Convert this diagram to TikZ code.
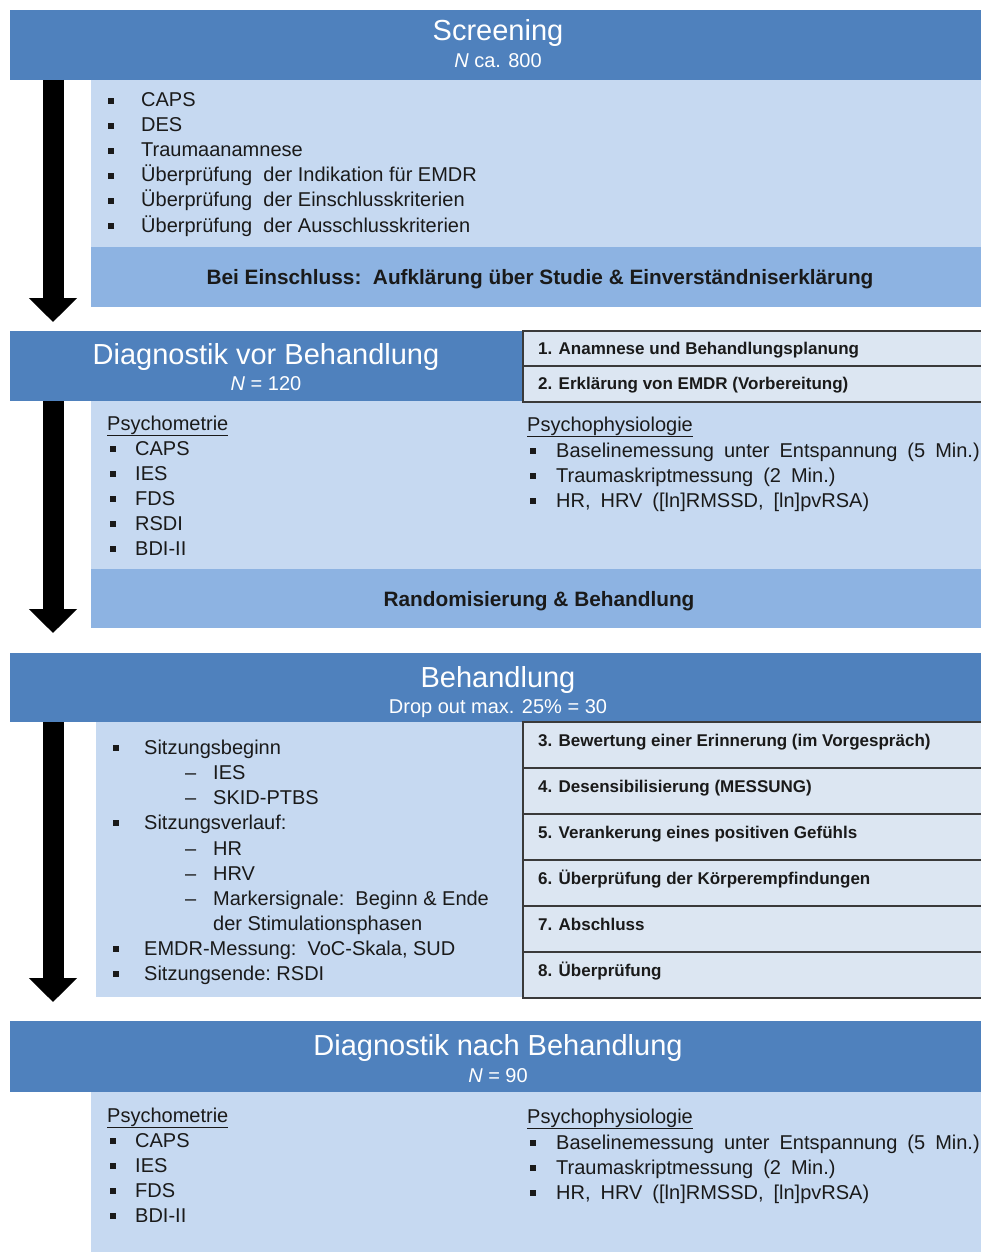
\documentclass[tikz,border=0pt]{standalone}
\usepackage{fontspec}
\setmainfont{Liberation Sans}
\usetikzlibrary{arrows.meta}

\definecolor{hdr}{HTML}{4F81BD}
\definecolor{pale}{HTML}{C6D9F1}
\definecolor{band}{HTML}{8DB3E2}
\definecolor{stepfill}{HTML}{DCE6F2}
\definecolor{stepline}{HTML}{3A3A3A}
\definecolor{ink}{HTML}{1A1A1A}

% bullet item: name, bullet x, text x, baseline y, text
\newcommand\bitem[5]{%
  \node[bul] (#1b) at (#2,#4-6) {};
  \node[txt] (#1) at (#3,#4) {#5};}
% dash item: name, dash x, text x, baseline y, text
\newcommand\ditem[5]{%
  \node[txt] (#1d) at (#2,#4) {--};
  \node[txt] (#1) at (#3,#4) {#5};}
% wider word gaps
\newcommand\wsp{\spaceskip=10pt plus 1pt\relax}

\begin{document}
\begin{tikzpicture}[x=1pt,y=-1pt,
  box/.style={anchor=north west, inner sep=0pt, outer sep=0pt, draw=none},
  hbox/.style={box, fill=hdr},
  pbox/.style={box, fill=pale},
  bbox/.style={box, fill=band},
  stepbox/.style={box, fill=stepfill, draw=stepline, line width=1.6pt},
  ttl/.style={text=white, font=\fontsize{29}{34}\selectfont, anchor=base, inner sep=0pt},
  sub/.style={text=white, font=\fontsize{20}{24}\selectfont, anchor=base, inner sep=0pt},
  txt/.style={text=ink, font=\fontsize{20}{24}\selectfont, anchor=base west, inner sep=0pt},
  bul/.style={fill=ink, minimum width=5.5pt, minimum height=6pt, inner sep=0pt},
  stp/.style={text=ink, font=\bfseries\fontsize{17}{20}\selectfont, anchor=base west, inner sep=0pt},
  bnd/.style={text=ink, font=\bfseries\fontsize{20.8}{24}\selectfont, anchor=base, inner sep=0pt},
  flow/.style={line width=21pt, -{Triangle[width=47pt,length=24pt]}}
]
\useasboundingbox (0,0) rectangle (980,1252);

% ---------- Screening ----------
\node[hbox, minimum width=975pt, minimum height=70pt] (scrH) at (10,10) {};
\node[pbox, minimum width=894pt, minimum height=167pt] (scrB) at (91,80) {};
\node[bbox, minimum width=894pt, minimum height=60pt] (scrBand) at (91,247) {};
\node[ttl] (scrT) at (498,41) {Screening};
\node[sub] (scrN) at (498,68) {\textit{N} ca. 800};
\bitem{s1}{111}{141}{107}{CAPS}
\bitem{s2}{111}{141}{132}{DES}
\bitem{s3}{111}{141}{157}{Traumaanamnese}
\bitem{s4}{111}{141}{182}{Überprüfung\ \ der Indikation für EMDR}
\bitem{s5}{111}{141}{207}{Überprüfung\ \ der Einschlusskriterien}
\bitem{s6}{111}{141}{232}{Überprüfung\ \ der Ausschlusskriterien}
\node[bnd] (scrBandT) at (540,284) {Bei Einschluss:\ \ Aufklärung über Studie \& Einverständniserklärung};

% ---------- Diagnostik vor Behandlung ----------
\node[hbox, minimum width=513pt, minimum height=70pt] (preH) at (10,331) {};
\node[pbox, minimum width=894pt, minimum height=168pt] (preB) at (91,401) {};
\node[bbox, minimum width=894pt, minimum height=59pt] (preBand) at (91,569) {};
\node[stepbox, minimum width=500pt, minimum height=35pt] (p1) at (523,331) {};
\node[stepbox, minimum width=500pt, minimum height=36pt] (p2) at (523,366) {};
\node[stp] (p1t) at (538,354) {1. Anamnese und Behandlungsplanung};
\node[stp] (p2t) at (538,389) {2. Erklärung von EMDR (Vorbereitung)};
\node[ttl] (preT) at (266,364) {Diagnostik vor Behandlung};
\node[sub] (preN) at (266,390) {\textit{N} = 120};
\node[txt] (preM) at (107,430) {\underline{Psychometrie}};
\bitem{m1}{113}{135}{455}{CAPS}
\bitem{m2}{113}{135}{480}{IES}
\bitem{m3}{113}{135}{505}{FDS}
\bitem{m4}{113}{135}{530}{RSDI}
\bitem{m5}{113}{135}{555}{BDI-II}
\node[txt] (preP) at (527,431) {\underline{Psychophysiologie}};
\bitem{q1}{533}{556}{457}{\wsp Baselinemessung unter Entspannung (5 Min.)}
\bitem{q2}{533}{556}{482}{\wsp Traumaskriptmessung (2 Min.)}
\bitem{q3}{533}{556}{507}{\wsp HR, HRV ([ln]RMSSD, [ln]pvRSA)}
\node[bnd] (preBandT) at (539,606) {Randomisierung \& Behandlung};

% ---------- Behandlung ----------
\node[hbox, minimum width=975pt, minimum height=69pt] (trH) at (10,653) {};
\node[pbox, minimum width=427pt, minimum height=275pt] (trB) at (96,722) {};
\foreach \i/\t [count=\k from 0] in {3/{3. Bewertung einer Erinnerung (im Vorgespräch)},
    4/{4. Desensibilisierung (MESSUNG)},
    5/{5. Verankerung eines positiven Gefühls},
    6/{6. Überprüfung der Körperempfindungen},
    7/{7. Abschluss},
    8/{8. Überprüfung}}{
  \node[stepbox, minimum width=500pt, minimum height=46pt] (r\i) at (523,722+46*\k) {};
  \node[stp] (r\i t) at (538,746+46*\k) {\t};
}
\node[ttl] (trT) at (498,687) {Behandlung};
\node[sub] (trN) at (498,713) {Drop out max. 25\% = 30};
\bitem{b1}{116}{144}{754}{Sitzungsbeginn}
\ditem{b2}{185}{213}{779}{IES}
\ditem{b3}{185}{213}{804}{SKID-PTBS}
\bitem{b4}{116}{144}{829}{Sitzungsverlauf:}
\ditem{b5}{185}{213}{855}{HR}
\ditem{b6}{185}{213}{880}{HRV}
\ditem{b7}{185}{213}{905}{Markersignale:\ \ Beginn \& Ende}
\node[txt] (b8) at (213,930) {der Stimulationsphasen};
\bitem{b9}{116}{144}{955}{EMDR-Messung:\ \ VoC-Skala, SUD}
\bitem{b10}{116}{144}{980}{Sitzungsende:\ RSDI}

% ---------- Diagnostik nach Behandlung ----------
\node[hbox, minimum width=975pt, minimum height=71pt] (postH) at (10,1021) {};
\node[pbox, minimum width=894pt, minimum height=165pt] (postB) at (91,1092) {};
\node[ttl] (postT) at (498,1055) {Diagnostik nach Behandlung};
\node[sub] (postN) at (498,1082) {\textit{N} = 90};
\node[txt] (postM) at (107,1122) {\underline{Psychometrie}};
\bitem{n1}{113}{135}{1147}{CAPS}
\bitem{n2}{113}{135}{1172}{IES}
\bitem{n3}{113}{135}{1197}{FDS}
\bitem{n4}{113}{135}{1222}{BDI-II}
\node[txt] (postP) at (527,1123) {\underline{Psychophysiologie}};
\bitem{o1}{533}{556}{1149}{\wsp Baselinemessung unter Entspannung (5 Min.)}
\bitem{o2}{533}{556}{1174}{\wsp Traumaskriptmessung (2 Min.)}
\bitem{o3}{533}{556}{1199}{\wsp HR, HRV ([ln]RMSSD, [ln]pvRSA)}

% ---------- flow arrows ----------
\coordinate (a1s) at (53,80);   \coordinate (a1e) at (53,322);
\coordinate (a2s) at (53,401);  \coordinate (a2e) at (53,633);
\coordinate (a3s) at (53,722);  \coordinate (a3e) at (53,1002);
\draw[flow] (a1s) -- (a1e);
\draw[flow] (a2s) -- (a2e);
\draw[flow] (a3s) -- (a3e);
\end{tikzpicture}
\end{document}
